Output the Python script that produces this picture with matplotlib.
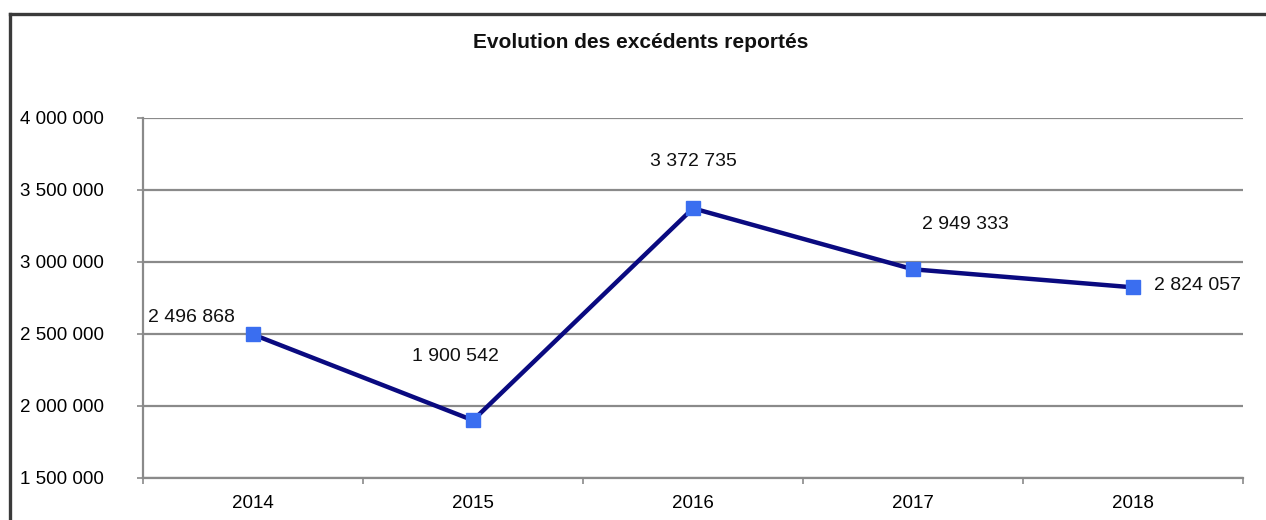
import matplotlib
matplotlib.use("Agg")
import matplotlib.pyplot as plt
from matplotlib.lines import Line2D
from matplotlib.ticker import FuncFormatter, FixedLocator

years = ["2014", "2015", "2016", "2017", "2018"]
values = [2496868, 1900542, 3372735, 2949333, 2824057]
title = "Evolution des excédents reportés"
y_ticks = [1500000, 2000000, 2500000, 3000000, 3500000, 4000000]
label_offsets_px = [(-62, 17), (-18, 64), (0, 47), (52, 45), (64, 2)]

plt.rcParams['font.family'] = ['Liberation Sans', 'DejaVu Sans']

W, H = 1266, 520
fig = plt.figure(figsize=(W / 100, H / 100), dpi=100)
fig.patch.set_facecolor("white")

# outer frame (left and top edges visible, the rest is cropped)
fx0, fy0 = 9.5 / W, 1 - 13.5 / H
fig.add_artist(Line2D([fx0, fx0], [-0.05, fy0], transform=fig.transFigure,
                      color="#3a3a3a", linewidth=2.4, solid_capstyle="projecting"))
fig.add_artist(Line2D([fx0, 1.05], [fy0, fy0], transform=fig.transFigure,
                      color="#3a3a3a", linewidth=2.4, solid_capstyle="projecting"))

ax = fig.add_axes([143 / W, 42 / H, 1100 / W, 360 / H])
x = list(range(len(years)))
ax.set_xlim(-0.5, len(years) - 0.5)
ax.set_ylim(1500000, 4000000)

ax.set_yticks(y_ticks)
ax.yaxis.set_major_formatter(FuncFormatter(lambda v, p: f"{int(v):,}".replace(",", " ")))
ax.grid(axis="y", color="#8a8a8a", linewidth=1.6)
ax.set_axisbelow(True)

ax.set_xticks(x)
ax.set_xticklabels(years)
ax.xaxis.set_minor_locator(FixedLocator([i + 0.5 for i in range(-1, len(years))]))
ax.tick_params(axis="x", which="major", length=0, pad=12, labelsize=13.5)
ax.tick_params(axis="x", which="minor", length=4, color="#8a8a8a", width=1.2)
ax.tick_params(axis="y", length=4, color="#8a8a8a", width=1.2, pad=24, labelsize=13.5)

for s in ["top", "right"]:
    ax.spines[s].set_visible(False)
for s in ["left", "bottom"]:
    ax.spines[s].set_color("#8a8a8a")
    ax.spines[s].set_linewidth(1.6)

ax.plot(x, values, color="#0a0a80", linewidth=3.2, marker="s", markersize=10,
        markerfacecolor="#3a6ef0", markeredgecolor="#3a6ef0", zorder=3, clip_on=False)

for xi, v, (dx, dy) in zip(x, values, label_offsets_px):
    ax.annotate(f"{v:,}".replace(",", " "), (xi, v), xytext=(dx, dy),
                textcoords="offset pixels", ha="center", va="center",
                fontsize=14, color="#111111")

fig.text(641 / W, 1 - 43 / H, title, ha="center", va="center",
         fontsize=15, fontweight="bold", color="#111111")

fig.savefig("out.png", dpi=100)
